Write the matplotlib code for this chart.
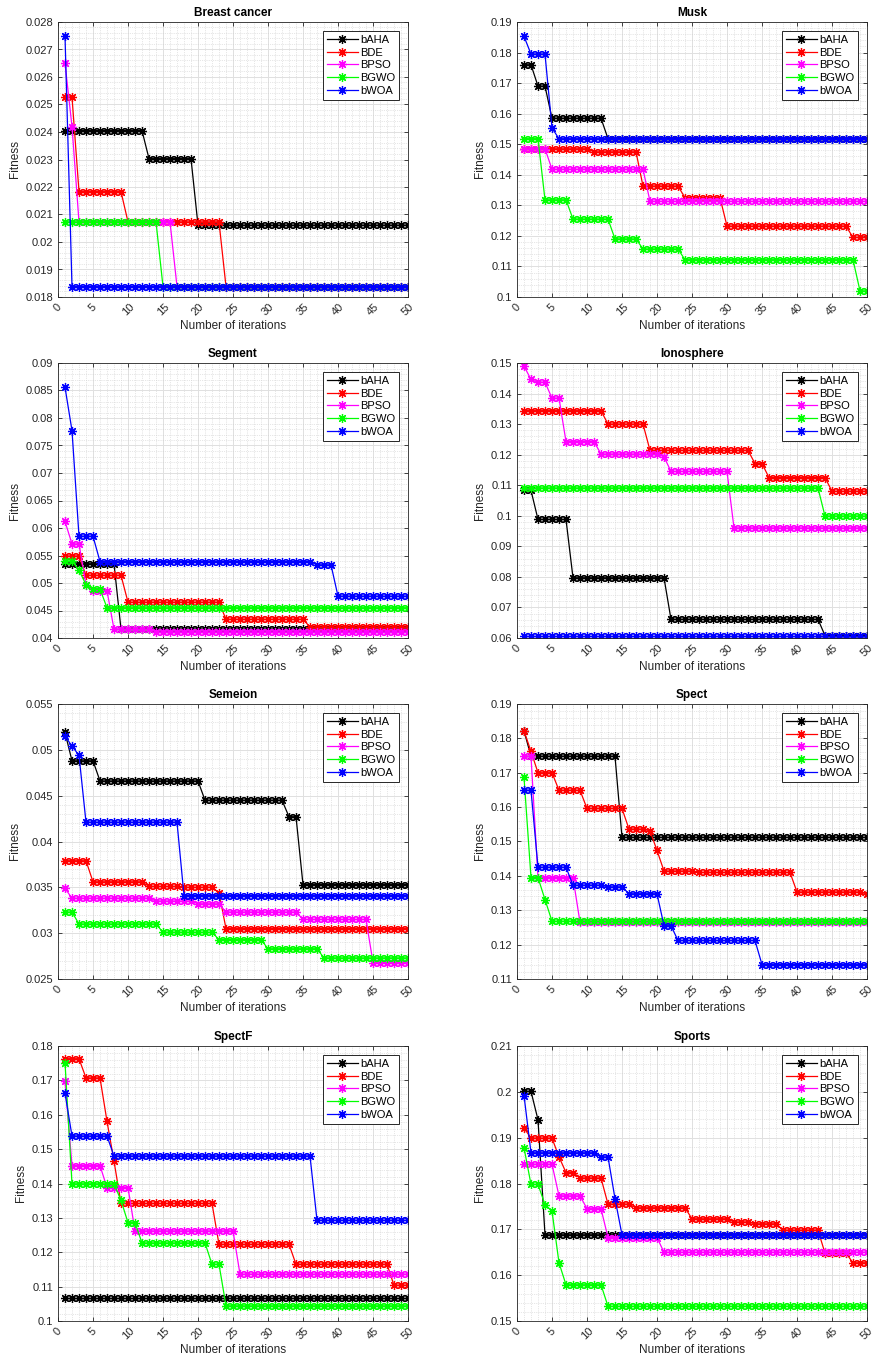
import numpy as np
import matplotlib
matplotlib.use("Agg")
import matplotlib.pyplot as plt
from matplotlib.ticker import MultipleLocator, AutoMinorLocator, FuncFormatter

plt.rcParams['font.family'] = ['Liberation Sans', 'DejaVu Sans']

# algorithms, colours (MATLAB style pure colours)
algos = ['bAHA', 'BDE', 'BPSO', 'BGWO', 'bWOA']
colors = ['#000000', '#ff0000', '#ff00ff', '#00ff00', '#0000ff']
n_iter = 50

# each series: (iteration where the value starts, fitness value)
# Breast cancer
bc_bAHA = [(1, 0.02405), (13, 0.02303), (20, 0.02061)]
bc_BDE = [(1, 0.02527), (3, 0.02183), (10, 0.02073), (24, 0.01838)]
bc_BPSO = [(1, 0.02650), (2, 0.02420), (3, 0.02073), (17, 0.01838)]
bc_BGWO = [(1, 0.02073), (15, 0.01838)]
bc_bWOA = [(1, 0.02750), (2, 0.01838)]

# Musk
mu_bAHA = [(1, 0.1760), (3, 0.1690), (5, 0.1585), (13, 0.1518)]
mu_BDE = [(1, 0.1485), (11, 0.1475), (18, 0.1363), (24, 0.1325), (30, 0.1232), (48, 0.1195)]
mu_BPSO = [(1, 0.1485), (5, 0.1418), (19, 0.1313)]
mu_BGWO = [(1, 0.1518), (4, 0.1318), (8, 0.1255), (14, 0.1190), (18, 0.1157), (24, 0.1122), (49, 0.1020)]
mu_bWOA = [(1, 0.1853), (2, 0.1795), (5, 0.1553), (6, 0.1518)]

# Segment
se_bAHA = [(1, 0.0535), (9, 0.0416)]
se_BDE = [(1, 0.0549), (4, 0.0514), (10, 0.0465), (24, 0.0434), (36, 0.0420)]
se_BPSO = [(1, 0.0612), (2, 0.0571), (4, 0.0497), (5, 0.0486), (8, 0.0416), (14, 0.0411)]
se_BGWO = [(1, 0.0540), (3, 0.0523), (4, 0.0497), (5, 0.0489), (7, 0.0455)]
se_bWOA = [(1, 0.0856), (2, 0.0777), (3, 0.0585), (6, 0.0539), (37, 0.0533), (40, 0.0476)]

# Ionosphere
io_bAHA = [(1, 0.1083), (3, 0.0988), (8, 0.0797), (22, 0.0661), (44, 0.0608)]
io_BDE = [(1, 0.1344), (13, 0.1300), (19, 0.1214), (34, 0.1171), (36, 0.1125), (45, 0.1080)]
io_BPSO = [(1, 0.1490), (2, 0.1446), (3, 0.1437), (5, 0.1385), (7, 0.1243), (12, 0.1202), (21, 0.1193),
           (22, 0.1145), (31, 0.0960)]
io_BGWO = [(1, 0.1091), (44, 0.0999)]
io_bWOA = [(1, 0.0608)]

# Semeion
sm_bAHA = [(1, 0.0519), (2, 0.0488), (6, 0.0466), (21, 0.0445), (33, 0.0427), (35, 0.0353)]
sm_BDE = [(1, 0.0379), (5, 0.0356), (13, 0.0351), (18, 0.0350), (23, 0.0344), (24, 0.0305)]
sm_BPSO = [(1, 0.0349), (2, 0.0338), (14, 0.0335), (20, 0.0332), (24, 0.0323), (35, 0.0315), (45, 0.0268)]
sm_BGWO = [(1, 0.0323), (3, 0.0310), (15, 0.0301), (23, 0.0293), (30, 0.0283), (38, 0.0273)]
sm_bWOA = [(1, 0.0515), (2, 0.0504), (3, 0.0494), (4, 0.0421), (18, 0.0341)]

# Spect
sp_bAHA = [(1, 0.1822), (2, 0.1748), (15, 0.1512)]
sp_BDE = [(1, 0.1822), (2, 0.1762), (3, 0.1700), (6, 0.1649), (10, 0.1596), (16, 0.1536), (19, 0.1531),
          (20, 0.1474), (21, 0.1414), (26, 0.1410), (40, 0.1353), (50, 0.1347)]
sp_BPSO = [(1, 0.1748), (3, 0.1395), (9, 0.1265)]
sp_BGWO = [(1, 0.1687), (2, 0.1395), (4, 0.1331), (5, 0.1268)]
sp_bWOA = [(1, 0.1649), (3, 0.1425), (8, 0.1373), (13, 0.1368), (16, 0.1348), (21, 0.1255), (23, 0.1212),
           (35, 0.1142)]

# SpectF
sf_bAHA = [(1, 0.1066)]
sf_BDE = [(1, 0.1763), (4, 0.1707), (7, 0.1581), (8, 0.1465), (9, 0.1342), (23, 0.1223), (34, 0.1165),
          (48, 0.1104)]
sf_BPSO = [(1, 0.1698), (2, 0.1452), (7, 0.1388), (11, 0.1262), (26, 0.1136)]
sf_BGWO = [(1, 0.1752), (2, 0.1399), (9, 0.1351), (10, 0.1286), (12, 0.1227), (22, 0.1165), (24, 0.1044)]
sf_bWOA = [(1, 0.1663), (2, 0.1538), (8, 0.1480), (37, 0.1293)]

# Sports
sa_bAHA = [(1, 0.2001), (3, 0.1939), (4, 0.1688)]
sa_BDE = [(1, 0.1921), (2, 0.1899), (6, 0.1858), (7, 0.1824), (9, 0.1812), (13, 0.1755), (17, 0.1747),
          (25, 0.1723), (31, 0.1716), (34, 0.1712), (38, 0.1698), (44, 0.1648), (48, 0.1627)]
sa_BPSO = [(1, 0.1842), (6, 0.1773), (10, 0.1745), (13, 0.1682), (21, 0.1650)]
sa_BGWO = [(1, 0.1878), (2, 0.1798), (4, 0.1754), (5, 0.1740), (6, 0.1627), (7, 0.1579), (13, 0.1532)]
sa_bWOA = [(1, 0.1992), (2, 0.1867), (12, 0.1858), (14, 0.1767), (15, 0.1688)]

titles = ['Breast cancer', 'Musk', 'Segment', 'Ionosphere', 'Semeion', 'Spect', 'SpectF', 'Sports']
panel_data = [
    [bc_bAHA, bc_BDE, bc_BPSO, bc_BGWO, bc_bWOA],
    [mu_bAHA, mu_BDE, mu_BPSO, mu_BGWO, mu_bWOA],
    [se_bAHA, se_BDE, se_BPSO, se_BGWO, se_bWOA],
    [io_bAHA, io_BDE, io_BPSO, io_BGWO, io_bWOA],
    [sm_bAHA, sm_BDE, sm_BPSO, sm_BGWO, sm_bWOA],
    [sp_bAHA, sp_BDE, sp_BPSO, sp_BGWO, sp_bWOA],
    [sf_bAHA, sf_BDE, sf_BPSO, sf_BGWO, sf_bWOA],
    [sa_bAHA, sa_BDE, sa_BPSO, sa_BGWO, sa_bWOA],
]
# y-axis limits and tick step of each panel
ylims = [(0.018, 0.028), (0.1, 0.19), (0.04, 0.09), (0.06, 0.15),
         (0.025, 0.055), (0.11, 0.19), (0.1, 0.18), (0.15, 0.21)]
ysteps = [0.001, 0.01, 0.005, 0.01, 0.005, 0.01, 0.01, 0.01]


def curve(changes):
    # best-so-far fitness per iteration from the change points
    vals = []
    for it in range(1, n_iter + 1):
        v = changes[0][1]
        for start, val in changes:
            if it >= start:
                v = val
        vals.append(v)
    return np.arange(1, n_iter + 1), np.array(vals)


fig = plt.figure(figsize=(8.75, 13.62), dpi=100)
W, H = 875.0, 1362.0
lefts = [58, 517]
tops = [22, 363, 704, 1046]
aw, ah = 350, 275

star = (8, 2, 0)  # asterisk marker like MATLAB '*'

for i in range(8):
    r, c = divmod(i, 2)
    ax = fig.add_axes([lefts[c] / W, 1 - (tops[r] + ah) / H, aw / W, ah / H])
    for k in range(5):
        x, y = curve(panel_data[i][k])
        ax.plot(x, y, color=colors[k], lw=0.9, marker=star, ms=6.5, mew=0.9, label=algos[k])
    ax.set_xlim(0, 50)
    ax.set_ylim(*ylims[i])
    ax.xaxis.set_major_locator(MultipleLocator(5))
    ax.yaxis.set_major_locator(MultipleLocator(ysteps[i]))
    ax.xaxis.set_minor_locator(AutoMinorLocator(5))
    ax.yaxis.set_minor_locator(AutoMinorLocator(5))
    ax.yaxis.set_major_formatter(FuncFormatter(lambda v, p: '%g' % round(v, 6)))
    ax.grid(True, which='major', color='#e0e0e0', lw=0.7, ls='-')
    ax.grid(True, which='minor', color='#cfcfcf', lw=0.5, ls=':')
    ax.set_axisbelow(True)
    ax.tick_params(which='major', direction='in', length=3, width=0.6, top=True, right=True,
                   labelsize=8, colors='#262626', labelcolor='#262626')
    ax.tick_params(which='minor', length=0)
    for lab in ax.get_xticklabels():
        lab.set_rotation(45)
        lab.set_ha('center')
    for s in ax.spines.values():
        s.set_linewidth(0.6)
        s.set_color('#262626')
    ax.set_title(titles[i], fontsize=8.5, fontweight='bold', pad=4)
    ax.set_xlabel('Number of iterations', fontsize=8.5, color='#262626', labelpad=2)
    ax.set_ylabel('Fitness', fontsize=8.5, color='#262626', labelpad=3)
    leg = ax.legend(loc='upper right', fontsize=8, fancybox=False, framealpha=1,
                    edgecolor='#262626', handlelength=2.8, borderpad=0.35,
                    labelspacing=0.25, handletextpad=0.2, borderaxespad=0.8)
    leg.get_frame().set_linewidth(0.7)

fig.savefig('out.png', dpi=100)
